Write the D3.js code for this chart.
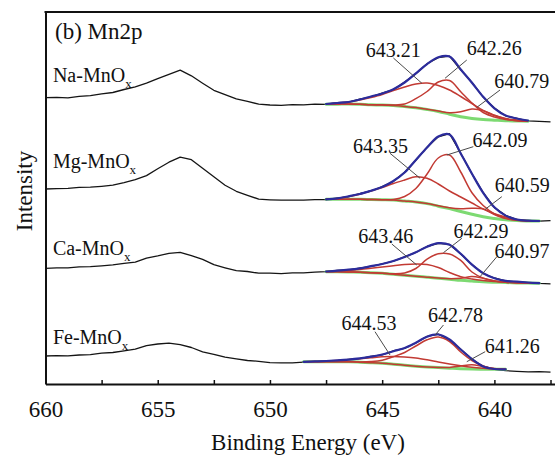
<!DOCTYPE html>
<html>
<head>
<meta charset="utf-8">
<script src="https://cdn.jsdelivr.net/npm/d3@7"></script>
<style>
  html, body { margin: 0; padding: 0; background: #fff; }
  svg { display: block; }
</style>
</head>
<body>
<svg id="chart" width="555" height="455"></svg>
<script>
// ---------- DATA ----------
// Binding energy grid of the measured spectra (eV)
const dataBE = [660, 659.5, 659, 658.5, 658, 657.5, 657, 656.5, 656, 655.5, 655, 654.5, 654, 653.5, 653, 652.5,
  652, 651.5, 651, 650.5, 650, 649.5, 649, 648.5, 648, 647.5, 647, 646.5, 646, 645.5, 645, 644.5, 644, 643.5,
  643, 642.5, 642, 641.5, 641, 640.5, 640, 639.5, 639, 638.5, 638, 637.5];

// Measured intensities (offset, arb. units)
const naData = [286.3, 286.6, 286.2, 287.6, 288.3, 290.2, 291.5, 294.5, 297.1, 300.8, 305.4, 309.7, 313.8, 308.2,
  300.8, 293.7, 289.3, 285.1, 282.6, 279.8, 279.0, 278.7, 279.3, 279.2, 279.8, 279.6, 281.3, 281.8, 284.8, 287.2,
  290.9, 294.4, 301.9, 310.2, 320.3, 326.4, 327.9, 314.1, 301.6, 286.9, 276.0, 268.2, 265.6, 263.2, 262.7, 262.1];
const mgData = [195.0, 195.4, 195.6, 196.6, 196.8, 197.7, 198.8, 201.3, 204.3, 208.4, 215.2, 221.8, 226.9, 224.3,
  215.8, 207.2, 198.8, 192.7, 188.7, 184.8, 184.2, 183.8, 183.9, 183.8, 184.3, 184.5, 185.9, 187.4, 190.3, 193.0,
  197.3, 202.7, 211.8, 223.7, 236.8, 247.2, 250.3, 230.8, 210.1, 191.5, 176.4, 168.7, 164.3, 163.6, 162.8, 163.4];
const caData = [115.7, 116.1, 116.2, 117.1, 117.4, 118.2, 119.1, 120.7, 121.8, 125.9, 128.1, 130.7, 131.6, 128.3,
  124.7, 119.3, 116.2, 113.3, 112.5, 110.8, 110.9, 110.4, 111.1, 111.2, 111.9, 112.4, 113.5, 114.1, 115.9, 117.6,
  120.2, 122.8, 127.2, 131.6, 137.5, 140.6, 139.6, 130.0, 119.5, 110.5, 106.0, 103.0, 102.4, 101.3, 100.6, 100.2];
const feData = [28.0, 28.3, 28.2, 29.0, 29.3, 30.8, 31.5, 33.2, 34.8, 38.4, 40.0, 40.9, 39.3, 36.5, 32.1, 29.7,
  26.8, 25.2, 23.5, 22.7, 21.3, 21.1, 21.2, 21.9, 22.5, 23.2, 23.4, 24.7, 25.4, 27.6, 29.2, 33.1, 35.7, 41.0,
  47.6, 49.8, 44.2, 34.8, 24.7, 17.8, 14.6, 13.3, 12.6, 12.1, 12.4, 11.8];

// Binding energy grid of the fitted curves (eV)
const fitBE = [648.5, 648, 647.5, 647, 646.5, 646, 645.5, 645, 644.5, 644, 643.5, 643, 642.5, 642, 641.5, 641,
  640.5, 640, 639.5, 639, 638.5, 638, 637.5];

// Na-MnOx fit: envelope, background, components
const naEnv = [null, null, 280, 281, 282, 284.5, 287.5, 290.5, 294.7, 301.5, 310.6, 319.8, 326.7, 327.4, 314.5, 301.3, 287.2, 275.7, 268.5, 265.5, 263.5, null, null];
const naBg  = [null, null, 279.7, 279.8, 280, 279.7, 279.2, 279, 278.5, 277.5, 276.2, 274.5, 272.5, 269.8, 267.2, 265.5, 264.4, 263.8, 263.3, 263, 262.7, null, null];
const naP1  = [null, null, 279.9, 281, 282, 284, 286.5, 289.5, 293.5, 297, 300, 301, 298.5, 294, 287.5, 280.5, 273.5, 268.5, 265.5, 264, 263, null, null];
const naP2  = [null, null, 279.7, 279.8, 280, 279.7, 279.3, 279.2, 279, 280, 285.3, 292.5, 302, 303.5, 292.3, 281, 271.5, 267, 264.5, 263.3, 262.8, null, null];
const naP3  = [null, null, 279.7, 279.8, 280, 279.7, 279.2, 279, 278.5, 277.6, 276.4, 274.7, 273, 271.3, 272.2, 275, 273.4, 268.8, 265.1, 263.2, 262.7, null, null];

// Mg-MnOx fit
const mgEnv = [null, null, 184.7, 185.7, 187.7, 190, 193.3, 197, 203, 211.5, 224, 236.5, 247.5, 249.5, 230.5, 210.3, 191.2, 176.7, 168.4, 164.5, 163.3, 163, null];
const mgBg  = [null, null, 184.7, 184.7, 184.7, 184.7, 184.5, 184.3, 184, 183, 182, 180.4, 177.8, 175.4, 172.5, 169.8, 167.2, 165.5, 164.2, 163.4, 163.1, 163, null];
const mgP1  = [null, null, 184.7, 185.5, 187.5, 189.8, 193, 196.5, 200.5, 204, 207.3, 205.7, 200, 193, 187, 181, 175, 170.3, 167, 164.5, 163.3, 163, null];
const mgP2  = [null, null, 184.7, 184.7, 184.7, 184.7, 184.5, 184.3, 184.5, 187.5, 195.5, 210, 226, 229, 212, 191.3, 178.5, 170.2, 166, 163.8, 163, 163, null];
const mgP3  = [null, null, 184.7, 184.7, 184.7, 184.7, 184.5, 184.3, 184, 183, 182, 180.4, 178.3, 176.2, 175.3, 175.8, 175.1, 169.5, 165.4, 163.7, 163.1, 163, null];

// Ca-MnOx fit
const caEnv = [null, null, 112.5, 113.3, 114.3, 115.7, 117.8, 120, 123, 127, 131.8, 137.3, 140.8, 139.3, 130.2, 119.3, 110.7, 105.8, 103.2, 102.3, 101.5, 100.8, null];
const caBg  = [null, null, 112.3, 112.2, 112, 111.7, 111.3, 110.7, 109.8, 108.7, 107.8, 106.8, 105.8, 104.8, 103.7, 102.9, 102.2, 101.8, 101.5, 101.1, 100.9, 100.7, null];
const caP1  = [null, null, 112.5, 113, 113.6, 114.5, 115.7, 117, 118.2, 119.5, 120, 119.5, 116.5, 111.5, 107.3, 105, 103.5, 102.5, 101.8, 101.3, 101, 100.7, null];
const caP2  = [null, null, 112.3, 112.2, 112, 111.7, 111.3, 110.7, 110.2, 111, 115.5, 124.8, 130.3, 130, 123.6, 112, 105.9, 103, 101.8, 101.2, 100.9, 100.7, null];
const caP3  = [null, null, 112.3, 112.2, 112, 111.7, 111.3, 110.7, 109.8, 108.7, 107.8, 106.8, 105.9, 105.3, 105.7, 107.4, 105.7, 103.1, 101.8, 101.2, 100.9, 100.7, null];

// Fe-MnOx fit
const feEnv = [22.2, 22.6, 23, 23.6, 24.4, 25.6, 27.3, 29.5, 32.8, 36, 41.3, 47.3, 49.5, 44.5, 34.5, 25, 17.5, 15, 14.7, null, null, null, null];
const feBg  = [22.2, 22.3, 22.3, 22.3, 22.2, 21.8, 21.3, 20.7, 19.8, 18.8, 17.8, 17, 16.4, 15.8, 15.3, 15, 14.8, 14.7, 14.7, null, null, null, null];
const feP1  = [22.2, 22.5, 22.8, 23.4, 24.2, 25.2, 26.2, 27.2, 27.5, 27, 26, 24.2, 22, 20, 18.2, 16.7, 15.7, 15, 14.7, null, null, null, null];
const feP2  = [22.2, 22.3, 22.3, 22.3, 22.2, 22.1, 22.4, 23.7, 27.3, 31.5, 38, 44.2, 47, 42.5, 32, 23.5, 18, 15.2, 14.7, null, null, null, null];
const feP3  = [22.2, 22.3, 22.3, 22.3, 22.2, 21.8, 21.3, 20.7, 19.8, 18.8, 17.8, 17, 16.5, 16.5, 18, 19.3, 17.3, 15.5, 14.8, null, null, null, null];

// Sample names and label anchors (BE, intensity)
const sampleNames = ["Na-MnO", "Mg-MnO", "Ca-MnO", "Fe-MnO"];
const sampleLabelBE = [659.67, 659.67, 659.67, 659.67];
const sampleLabelI  = [302.3, 215.7, 128.6, 40.3];

// Peak annotations: text, text centre (BE, I), leader start (BE, I), leader end (BE, I)
const peakText   = ["643.21", "642.26", "640.79", "643.35", "642.09", "640.59", "643.46", "642.29", "640.97", "644.53", "642.78", "641.26"];
const peakTextBE = [644.51, 640.01, 638.78, 645.07, 639.75, 638.76, 644.84, 640.60, 638.77, 645.59, 641.73, 639.21];
const peakTextI  = [327, 329, 295.7, 231.3, 237.3, 192.3, 140.7, 145.7, 125.7, 54, 62.3, 31.3];
const leadFromBE = [644.50, 641.23, 639.75, 644.65, 640.94, 639.67, 644.57, 641.45, 639.89, 645.32, 642.27, 640.41];
const leadFromI  = [326, 324, 294, 230.7, 237.3, 187.3, 140, 145.7, 127.3, 52.3, 59, 32.3];
const leadToBE   = [643.23, 642.20, 640.78, 643.31, 642.12, 640.41, 643.46, 642.27, 640.64, 644.65, 642.64, 641.23];
const leadToI    = [300.7, 305.7, 276.7, 205.7, 229, 174.7, 119, 131.3, 107.3, 29, 49, 22.3];

// Axis ticks
const majorTicks = [660, 655, 650, 645, 640];
const minorTicks = [657.5, 652.5, 647.5, 642.5, 637.5];

// ---------- DRAW ----------
const FONT = "'Liberation Serif', 'Times New Roman', serif";
const svg = d3.select("#chart");
const x = d3.scaleLinear().domain([660, 637.3]).range([45.5, 555]);
const y = d3.scaleLinear().domain([0, 372]).range([384, 12]);

const spectra = [
  { data: naData, env: naEnv, bg: naBg, peaks: [naP1, naP2, naP3] },
  { data: mgData, env: mgEnv, bg: mgBg, peaks: [mgP1, mgP2, mgP3] },
  { data: caData, env: caEnv, bg: caBg, peaks: [caP1, caP2, caP3] },
  { data: feData, env: feEnv, bg: feBg, peaks: [feP1, feP2, feP3] }
];

const dataLine = d3.line()
  .x((d, i) => x(dataBE[i]))
  .y(d => y(d))
  .curve(d3.curveLinear);

const fitLine = d3.line()
  .defined(d => d != null)
  .x((d, i) => x(fitBE[i]))
  .y(d => y(d))
  .curve(d3.curveCatmullRom.alpha(0.5));

const plot = svg.append("g");

spectra.forEach(s => {
  plot.append("path").attr("d", dataLine(s.data))
    .attr("fill", "none").attr("stroke", "#151515").attr("stroke-width", 1.3)
    .attr("stroke-linejoin", "round");
  plot.append("path").attr("d", fitLine(s.bg))
    .attr("fill", "none").attr("stroke", "#6fd663").attr("stroke-width", 3)
    .attr("stroke-opacity", 0.9).attr("stroke-linecap", "round");
  s.peaks.forEach(p => {
    plot.append("path").attr("d", fitLine(p))
      .attr("fill", "none").attr("stroke", "#c23a33").attr("stroke-width", 1.5);
  });
  plot.append("path").attr("d", fitLine(s.env))
    .attr("fill", "none").attr("stroke", "#2c2c9c").attr("stroke-width", 2.2)
    .attr("stroke-linecap", "round");
});

function txt(sel) {
  return sel.style("font-family", FONT).attr("fill", "#111");
}

// Leader lines and peak labels
peakText.forEach((t, i) => {
  svg.append("line")
    .attr("x1", x(leadFromBE[i])).attr("y1", y(leadFromI[i]))
    .attr("x2", x(leadToBE[i])).attr("y2", y(leadToI[i]))
    .attr("stroke", "#4a4a4a").attr("stroke-width", 1);
  txt(svg.append("text"))
    .attr("x", x(peakTextBE[i])).attr("y", y(peakTextI[i]))
    .attr("text-anchor", "middle").style("font-size", "20px")
    .text(t);
});

// Sample labels
sampleNames.forEach((n, i) => {
  const t = txt(svg.append("text"))
    .attr("x", x(sampleLabelBE[i])).attr("y", y(sampleLabelI[i]))
    .style("font-size", "20px");
  t.append("tspan").text(n);
  t.append("tspan").style("font-size", "13px").attr("dy", 6).text("x");
});

// Axes
const xAxis = d3.axisBottom(x).tickValues(majorTicks).tickSizeInner(-4).tickSizeOuter(0)
  .tickPadding(17).tickFormat(d3.format("d"));
const gx = svg.append("g").attr("transform", "translate(0,384)").call(xAxis);
gx.attr("font-family", null).attr("font-size", null);
gx.select(".domain").attr("stroke", "#111").attr("stroke-width", 2);
gx.selectAll(".tick line").attr("stroke", "#111").attr("stroke-width", 1.5);
txt(gx.selectAll(".tick text")).style("font-size", "23px");

const xMinor = d3.axisBottom(x).tickValues(minorTicks).tickSizeInner(-4).tickSizeOuter(0).tickFormat("");
const gm = svg.append("g").attr("transform", "translate(0,384)").call(xMinor);
gm.select(".domain").remove();
gm.selectAll(".tick line").attr("stroke", "#111").attr("stroke-width", 1.5);

// Left axis and top frame
const yAxis = d3.axisLeft(y).tickValues([]).tickSizeOuter(0);
const gy = svg.append("g").attr("transform", "translate(45.5,0)").call(yAxis);
gy.select(".domain").attr("stroke", "#111").attr("stroke-width", 2);
svg.append("line").attr("x1", 44.5).attr("x2", 555).attr("y1", 12).attr("y2", 12)
  .attr("stroke", "#111").attr("stroke-width", 2);

// Titles
txt(svg.append("text")).attr("x", 55).attr("y", 39).style("font-size", "23px").text("(b) Mn2p");
txt(svg.append("text")).attr("x", 308).attr("y", 450).attr("text-anchor", "middle")
  .style("font-size", "23px").text("Binding Energy (eV)");
txt(svg.append("text")).attr("transform", "translate(32,191) rotate(-90)")
  .attr("text-anchor", "middle").style("font-size", "23px").text("Intensity");
</script>
</body>
</html>
